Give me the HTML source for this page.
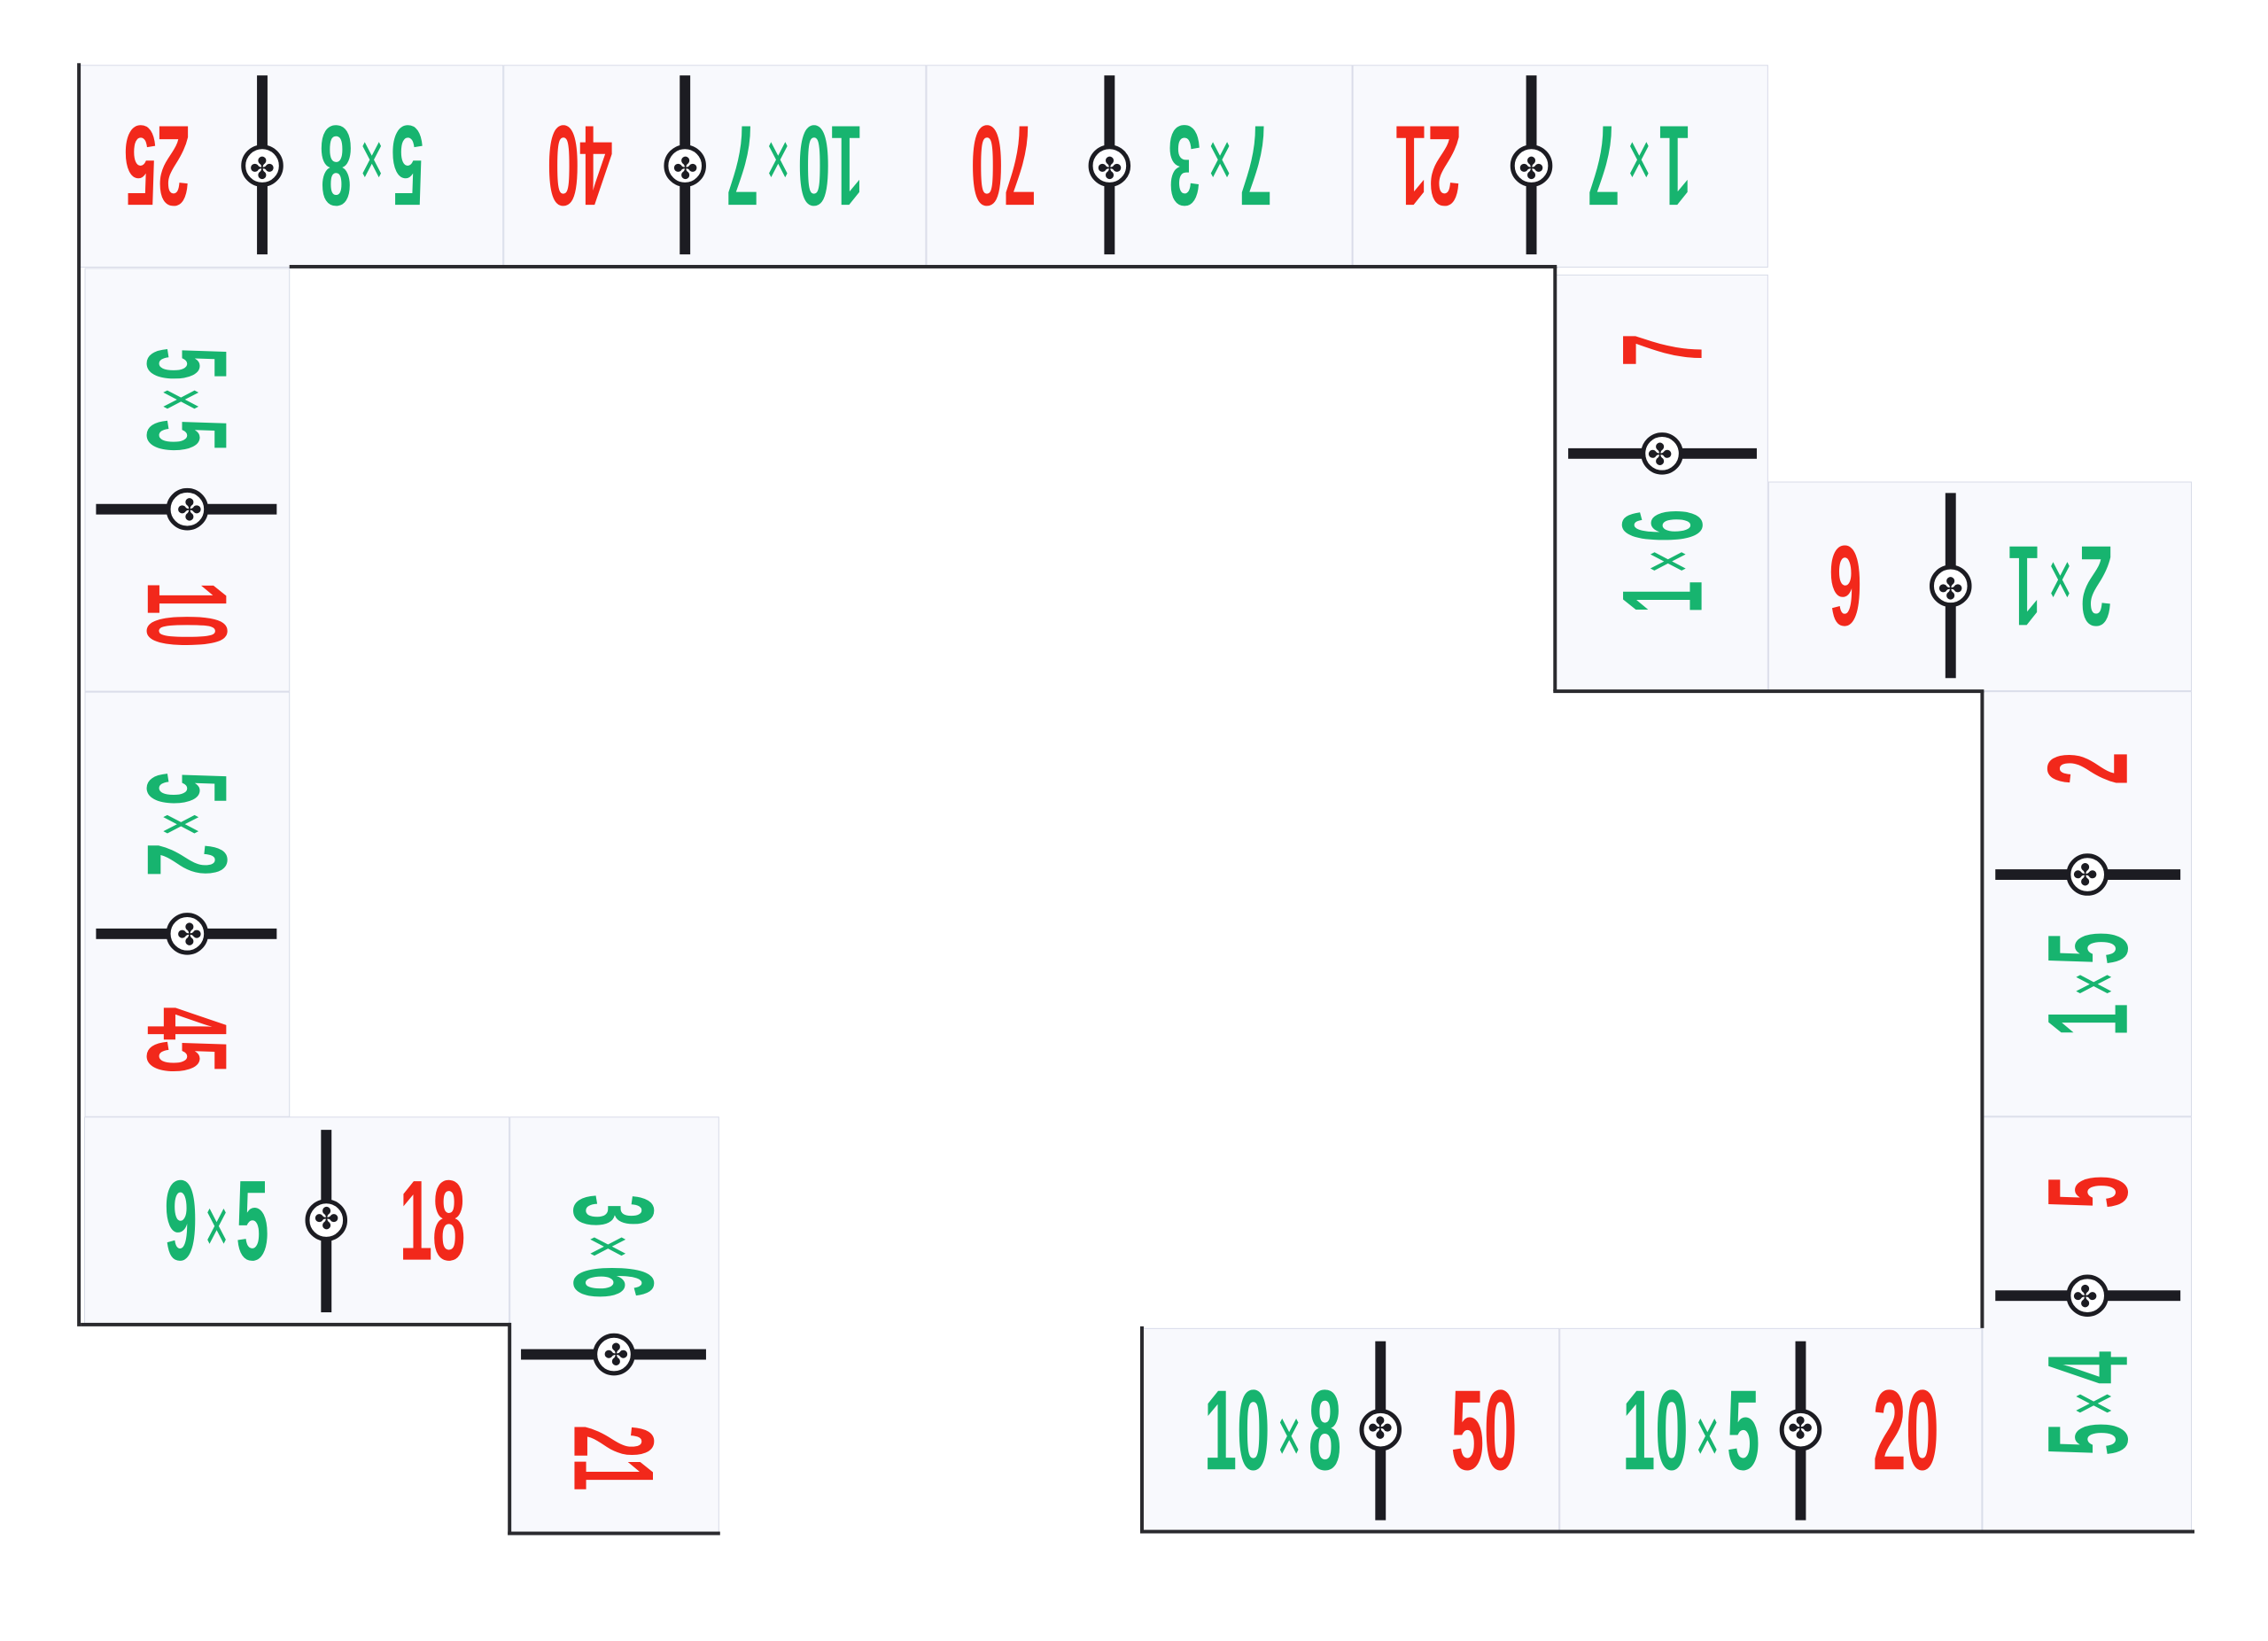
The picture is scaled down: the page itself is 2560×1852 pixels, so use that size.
<!DOCTYPE html>
<html><head><meta charset="utf-8"><style>
html,body{margin:0;padding:0;background:#fff;}
body{width:2560px;height:1852px;position:relative;overflow:hidden;}
#w{position:absolute;left:0;top:0;width:2560px;height:1852px;transform:scale(0.99);transform-origin:0 0;}
.t{position:absolute;background:#f8f9fd;box-sizing:border-box;border:1px solid #d8dbe8;}
.dv{position:absolute;left:57%;top:6%;bottom:5%;width:12px;margin-left:-6px;background:#1c1c22;}
.ci{position:absolute;left:57%;top:50%;width:48px;height:48px;margin:-24px 0 0 -24px;border-radius:50%;background:#fff;border:5px solid #1c1c22;box-sizing:border-box;text-align:center;line-height:36px;font-size:34px;color:#1c1c22;font-family:"DejaVu Sans",sans-serif;}
.tx{position:absolute;top:50%;font-family:"Liberation Sans Narrow","Liberation Sans",sans-serif;font-weight:bold;font-size:130px;line-height:1;white-space:nowrap;transform:translate(-50%,-50%) scaleX(0.52);}
.g{left:31%;color:#17b46f;}
.r{left:82%;color:#f2281b;}
.g small{font-size:90px;font-weight:normal;margin:0 16px;position:relative;top:-8px;}
.ln{position:absolute;background:#2a2a2e;}
</style></head><body>
<div id="w">
<div class="t" style="left:91px;top:74px;width:483px;height:231px;transform:rotate(180deg)"><div class="dv"></div><div class="ci">✤</div><div class="tx g">5<small>×</small>8</div><div class="tx r">25</div></div>
<div class="t" style="left:574px;top:74px;width:482px;height:231px;transform:rotate(180deg)"><div class="dv"></div><div class="ci">✤</div><div class="tx g">10<small>×</small>7</div><div class="tx r">40</div></div>
<div class="t" style="left:1056px;top:74px;width:486px;height:231px;transform:rotate(180deg)"><div class="dv"></div><div class="ci">✤</div><div class="tx g">7<small>×</small>3</div><div class="tx r">70</div></div>
<div class="t" style="left:1542px;top:74px;width:474px;height:231px;transform:rotate(180deg)"><div class="dv"></div><div class="ci">✤</div><div class="tx g">1<small>×</small>7</div><div class="tx r">21</div></div>

<div class="t" style="left:-28.5px;top:429.5px;width:483px;height:234px;transform:rotate(90deg)"><div class="dv"></div><div class="ci">✤</div><div class="tx g">5<small>×</small>5</div><div class="tx r">10</div></div>
<div class="t" style="left:-29.5px;top:913.5px;width:485px;height:234px;transform:rotate(90deg)"><div class="dv"></div><div class="ci">✤</div><div class="tx g">5<small>×</small>2</div><div class="tx r">45</div></div>

<div class="t" style="left:96px;top:1273px;width:485px;height:236px;"><div class="dv"></div><div class="ci">✤</div><div class="tx g">9<small>×</small>5</div><div class="tx r">18</div></div>

<div class="t" style="left:463px;top:1391px;width:475px;height:239px;transform:rotate(90deg)"><div class="dv"></div><div class="ci">✤</div><div class="tx g">3<small>×</small>6</div><div class="tx r">21</div></div>

<div class="t" style="left:1657px;top:429px;width:475px;height:243px;transform:rotate(-90deg)"><div class="dv"></div><div class="ci">✤</div><div class="tx g">1<small>×</small>6</div><div class="tx r">7</div></div>

<div class="t" style="left:2016px;top:549px;width:483px;height:239px;transform:rotate(180deg)"><div class="dv"></div><div class="ci">✤</div><div class="tx g">2<small>×</small>1</div><div class="tx r">6</div></div>

<div class="t" style="left:2137px;top:911px;width:485px;height:239px;transform:rotate(-90deg)"><div class="dv"></div><div class="ci">✤</div><div class="tx g">1<small>×</small>5</div><div class="tx r">2</div></div>
<div class="t" style="left:2142px;top:1391px;width:475px;height:239px;transform:rotate(-90deg)"><div class="dv"></div><div class="ci">✤</div><div class="tx g">5<small>×</small>4</div><div class="tx r">5</div></div>

<div class="t" style="left:1303px;top:1514px;width:475px;height:231px;"><div class="dv"></div><div class="ci">✤</div><div class="tx g">10<small>×</small>8</div><div class="tx r">50</div></div>
<div class="t" style="left:1778px;top:1514px;width:482px;height:231px;"><div class="dv"></div><div class="ci">✤</div><div class="tx g">10<small>×</small>5</div><div class="tx r">20</div></div>

<div class="ln" style="left:88px;top:72px;width:4px;height:1440px"></div>
<div class="ln" style="left:330px;top:302px;width:1445px;height:4px"></div>
<div class="ln" style="left:1771px;top:304px;width:4px;height:484px"></div>
<div class="ln" style="left:1771px;top:786px;width:491px;height:4px"></div>
<div class="ln" style="left:2258px;top:788px;width:4px;height:726px"></div>
<div class="ln" style="left:1300px;top:1512px;width:4px;height:236px"></div>
<div class="ln" style="left:1300px;top:1744px;width:1202px;height:4px"></div>
<div class="ln" style="left:92px;top:1508px;width:490px;height:4px"></div>
<div class="ln" style="left:579px;top:1508px;width:4px;height:242px"></div>
<div class="ln" style="left:579px;top:1746px;width:242px;height:4px"></div>
</div>
</body></html>
